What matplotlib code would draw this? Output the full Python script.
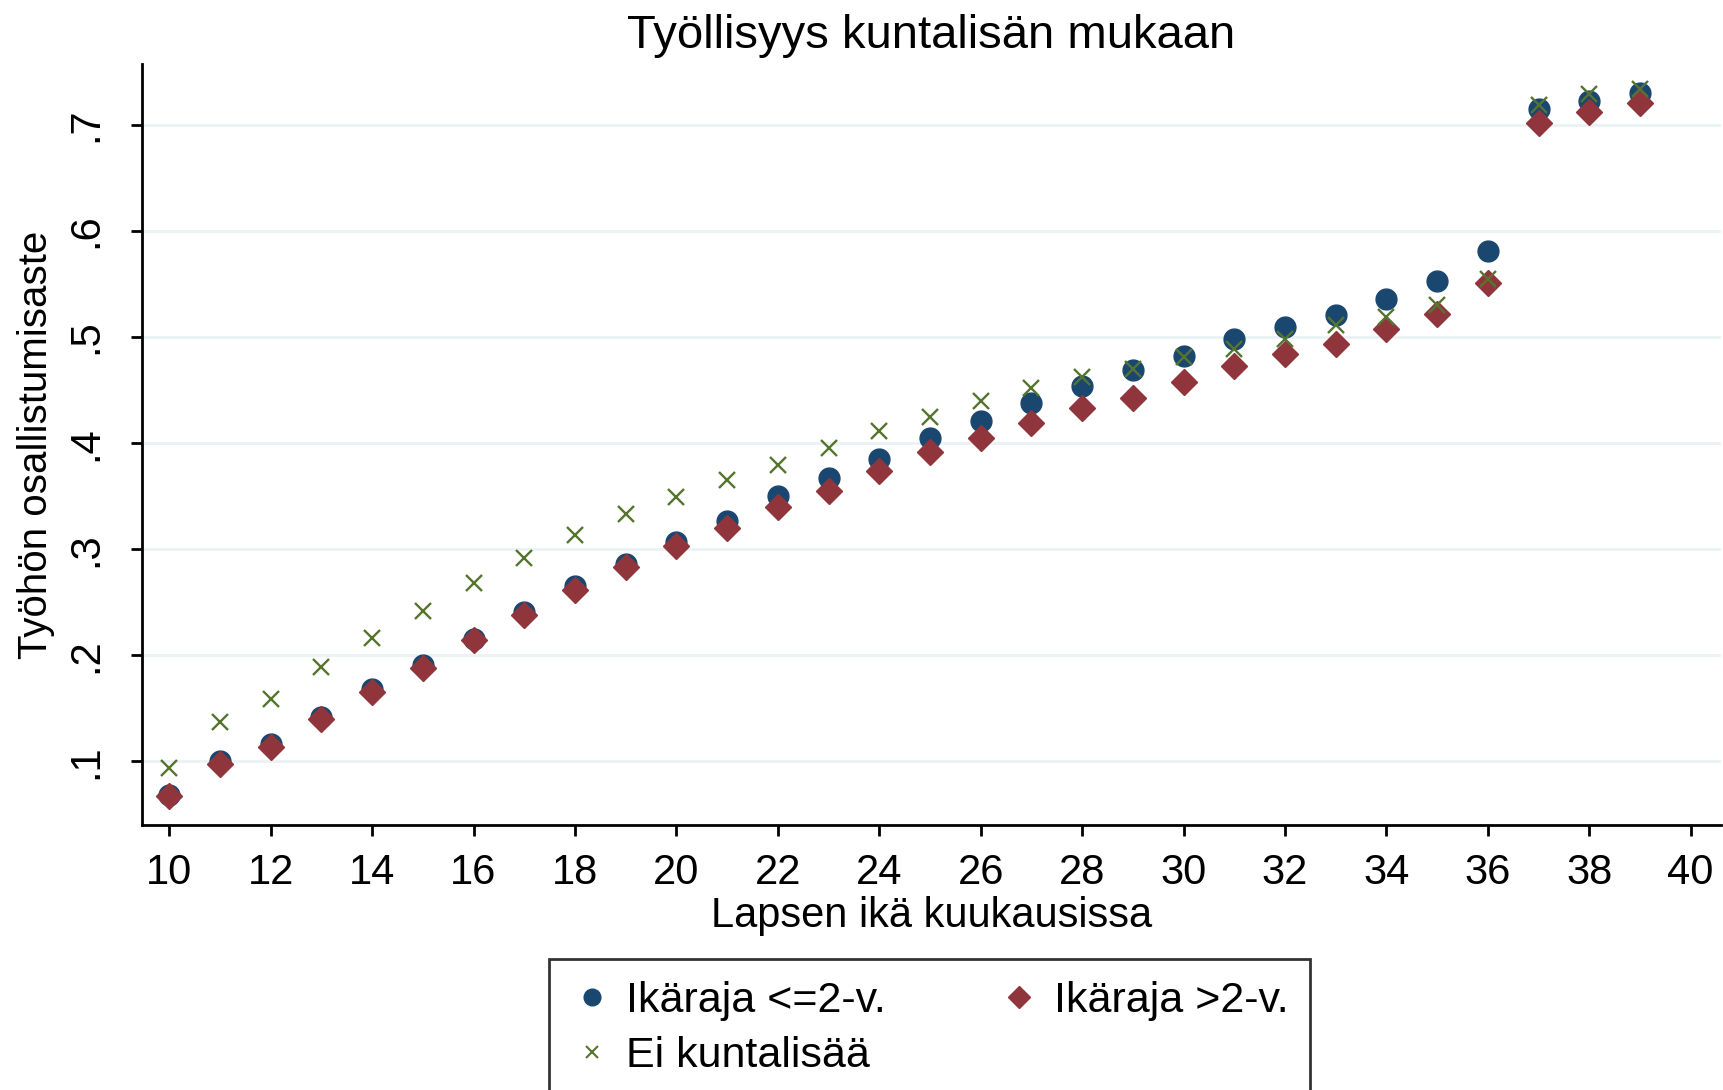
import matplotlib

matplotlib.use("Agg")
import matplotlib.pyplot as plt
from matplotlib.lines import Line2D

plt.rcParams["font.family"] = ["Liberation Sans", "DejaVu Sans"]

# Lapsen ikä kuukausissa
months = list(range(10, 40))

# Ikäraja <=2-v.
le2 = [0.068, 0.100, 0.116, 0.142, 0.168, 0.191, 0.215, 0.241, 0.265, 0.286,
       0.307, 0.327, 0.350, 0.367, 0.385, 0.405, 0.421, 0.438, 0.454, 0.469,
       0.482, 0.498, 0.509, 0.521, 0.536, 0.553, 0.581, 0.715, 0.722, 0.730]
# Ikäraja >2-v.
gt2 = [0.067, 0.098, 0.114, 0.140, 0.165, 0.188, 0.214, 0.238, 0.262, 0.283,
       0.303, 0.320, 0.340, 0.355, 0.374, 0.392, 0.405, 0.419, 0.433, 0.443,
       0.458, 0.473, 0.484, 0.493, 0.508, 0.522, 0.551, 0.702, 0.712, 0.721]
# Ei kuntalisää
none_ = [0.094, 0.137, 0.159, 0.189, 0.216, 0.242, 0.268, 0.292, 0.313, 0.333,
         0.349, 0.365, 0.379, 0.395, 0.411, 0.425, 0.440, 0.452, 0.462, 0.470,
         0.481, 0.489, 0.498, 0.511, 0.519, 0.530, 0.555, 0.719, 0.729, 0.734]

xticks = list(range(10, 41, 2))
yticks = [0.1, 0.2, 0.3, 0.4, 0.5, 0.6, 0.7]
ytick_labels = [".1", ".2", ".3", ".4", ".5", ".6", ".7"]

NAVY, MAROON, GREEN = "#1a476f", "#90353b", "#55752f"

fig = plt.figure(figsize=(17.24, 10.9), dpi=100)
ax = fig.add_axes([0.0823, 0.243, 0.916, 0.698])

ax.plot(months, le2, "o", color=NAVY, ms=15, ls="none", zorder=3)
ax.plot(months, gt2, "D", color=MAROON, ms=13.6, ls="none", zorder=4)
ax.plot(months, none_, "x", color=GREEN, ms=11, mew=1.7, ls="none", zorder=5)

ax.set_xlim(9.46, 40.6)
ax.set_ylim(0.040, 0.757)
ax.set_xticks(xticks)
ax.set_yticks(yticks)
ax.set_yticklabels(ytick_labels, rotation=90, va="center")
ax.tick_params(axis="both", labelsize=30, length=8, width=2, color="black")
ax.tick_params(axis="x", pad=12)
ax.tick_params(axis="y", pad=18)
ax.grid(axis="y", color="#eaf2f3", lw=2)
ax.set_axisbelow(True)

for side in ["top", "right"]:
    ax.spines[side].set_visible(False)
for side in ["left", "bottom"]:
    ax.spines[side].set_linewidth(2)

ax.set_title("Työllisyys kuntalisän mukaan", fontsize=34, pad=12)
ax.set_xlabel("Lapsen ikä kuukausissa", fontsize=30, labelpad=2)
ax.set_ylabel("Työhön osallistumisaste", fontsize=29, labelpad=8)

handles = [
    Line2D([], [], marker="o", color=NAVY, ls="none", ms=12),
    Line2D([], [], marker="x", color=GREEN, ls="none", ms=9, mew=1.5),
    Line2D([], [], marker="D", color=MAROON, ls="none", ms=11),
]
labels = ["Ikäraja <=2-v.", "Ei kuntalisää", "Ikäraja >2-v."]
leg = fig.legend(handles, labels, ncol=2, loc="upper center",
                 bbox_to_anchor=(0.539, 0.12), borderaxespad=0, fontsize=31,
                 frameon=True, fancybox=False, edgecolor="black",
                 borderpad=0.5, handletextpad=0.3, handlelength=1.0,
                 columnspacing=2.6, labelspacing=0.35)
leg.get_frame().set_linewidth(2)

fig.savefig("out.png", dpi=100)
